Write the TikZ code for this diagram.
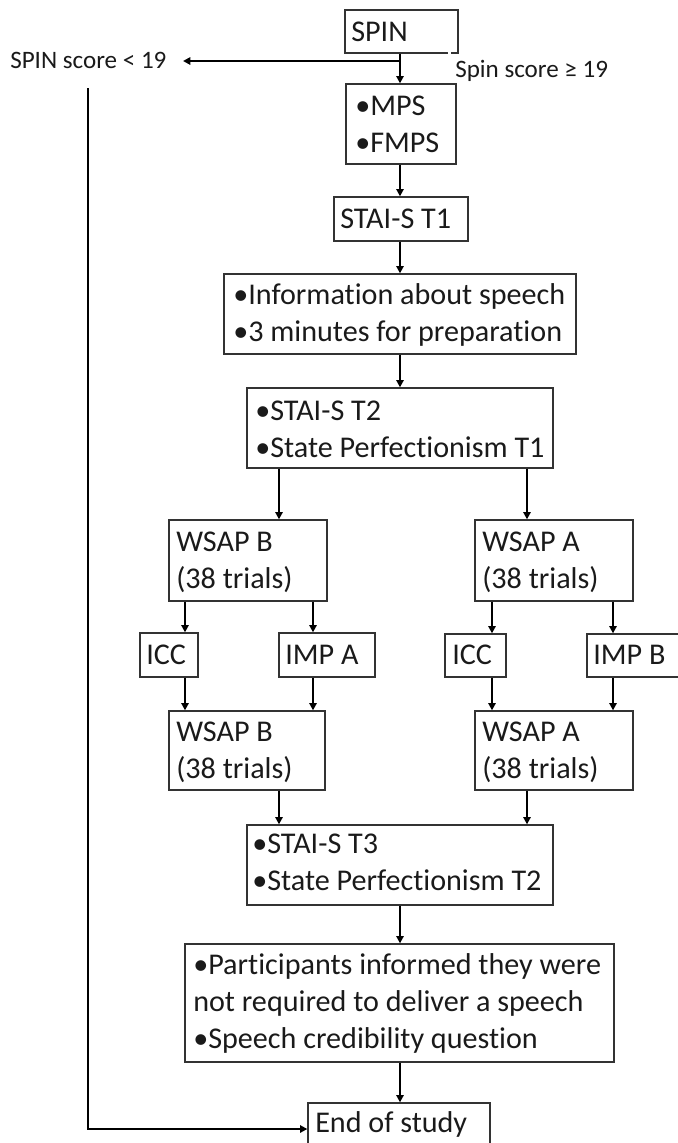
\documentclass[tikz,border=0pt]{standalone}
\usepackage{fontspec}
\setmainfont{Carlito}[Ligatures=NoCommon]
\usetikzlibrary{arrows.meta,fit}
\definecolor{boxc}{HTML}{333333}
\definecolor{txtc}{HTML}{1A1A1A}
% stacked lines whose baseline is the first line
\newcommand\boxlines[1]{\begin{tabular}[t]{@{}l@{}}#1\end{tabular}}
\begin{document}
\begin{tikzpicture}[x=0.75pt,y=-0.75pt,
  box/.style={draw=boxc, line width=1pt, inner sep=0pt},
  txt/.style={inner sep=0pt, anchor=base west, text=txtc, font=\fontsize{22.6}{27.75}\selectfont},
  small/.style={inner sep=0pt, anchor=base west, text=txtc, font=\fontsize{18.8}{22}\selectfont},
  arr/.style={draw=black, line width=1.6pt, -{Triangle[length=5.5pt,width=5.5pt]}},
]
\useasboundingbox (0,0) rectangle (678,1143);
\clip (0,0) rectangle (678,1143);

% boxes
\node[box, fit={(345,10)(458,53)}] (spin) {};
\node[box, fit={(346,84)(456,164)}] (mps) {};
\node[box, fit={(334,197)(468,241)}] (t1) {};
\node[box, fit={(224,274)(576,354)}] (info) {};
\node[box, fit={(247,388)(553,468)}] (t2) {};
\node[box, fit={(169,520)(327,601)}] (wb1) {};
\node[box, fit={(475,520)(633,601)}] (wa1) {};
\node[box, fit={(140,633)(198,677)}] (iccL) {};
\node[box, fit={(279,633)(375,677)}] (impA) {};
\node[box, fit={(445,634)(506,677)}] (iccR) {};
\node[box, fit={(587,634)(684,677)}] (impB) {};
\node[box, fit={(169,711)(325,790)}] (wb2) {};
\node[box, fit={(475,711)(633,790)}] (wa2) {};
\node[box, fit={(247,825)(553,905)}] (t3) {};
\node[box, fit={(185,944)(614,1062)}] (part) {};
\node[box, fit={(308,1103)(490,1155)}] (end) {};
% small break in the SPIN box edge
\draw[white, line width=1.5pt] (447.5,53) -- (450.5,53);

% box texts
\node[txt] at (351,41) {SPIN};
\node[txt] at (355,115) {\boxlines{•MPS\\•FMPS}};
\node[txt] at (340,228) {STAI-S T1};
\node[txt] at (233,304) {\boxlines{•Information about speech\\•3 minutes for preparation}};
\node[txt] at (255,420) {\boxlines{•STAI-S T2\\•State Perfectionism T1}};
\node[txt] at (176,551) {\boxlines{WSAP B\\(38 trials)}};
\node[txt] at (482,551) {\boxlines{WSAP A\\(38 trials)}};
\node[txt] at (146,664) {ICC};
\node[txt] at (285,664) {IMP A};
\node[txt] at (452,664) {ICC};
\node[txt] at (593,664) {IMP B};
\node[txt] at (176,741) {\boxlines{WSAP B\\(38 trials)}};
\node[txt] at (482,741) {\boxlines{WSAP A\\(38 trials)}};
\node[txt] at (252,853) {\boxlines{•STAI-S T3\\•State Perfectionism T2}};
\node[txt] at (193,974) {\boxlines{•Participants informed they were\\not required to deliver a speech\\•Speech credibility question}};
\node[txt] at (315,1132) {End of study};

% branch labels
\node[small] (lo) at (10,68) {SPIN score < 19};
\node[small] (hi) at (455,77) {Spin score ≥ 19};

% column positions of the vertical connectors
\coordinate (spine) at (400,0);
\coordinate (cL) at (279,0);
\coordinate (cR) at (527,0);
\coordinate (c1) at (185,0);
\coordinate (c2) at (313,0);
\coordinate (c3) at (492,0);
\coordinate (c4) at (613,0);

% connectors
\draw[arr] (spin.south -| spine) -- (mps.north -| spine);
\coordinate (fork) at (400,61);
\coordinate (lotip) at (183,61);
\draw[arr] (fork) -- (lotip);
\coordinate (ret) at (88,88);
\draw[arr, line width=2pt] (ret) |- (end.west);

\draw[arr] (mps.south -| spine) -- (t1.north -| spine);
\draw[arr] (t1.south -| spine) -- (info.north -| spine);
\draw[arr] (info.south -| spine) -- (t2.north -| spine);
\draw[arr] (t2.south -| cL) -- (wb1.north -| cL);
\draw[arr] (t2.south -| cR) -- (wa1.north -| cR);
\draw[arr] (wb1.south -| c1) -- (iccL.north -| c1);
\draw[arr] (wb1.south -| c2) -- (impA.north -| c2);
\draw[arr] (iccL.south -| c1) -- (wb2.north -| c1);
\draw[arr] (impA.south -| c2) -- (wb2.north -| c2);
\draw[arr] (wa1.south -| c3) -- (iccR.north -| c3);
\draw[arr] (wa1.south -| c4) -- (impB.north -| c4);
\draw[arr] (iccR.south -| c3) -- (wa2.north -| c3);
\draw[arr] (impB.south -| c4) -- (wa2.north -| c4);
\draw[arr] (wb2.south -| cL) -- (t3.north -| cL);
\draw[arr] (wa2.south -| cR) -- (t3.north -| cR);
\draw[arr] (t3.south -| spine) -- (part.north -| spine);
\draw[arr] (part.south -| spine) -- (end.north -| spine);
\end{tikzpicture}
\end{document}
